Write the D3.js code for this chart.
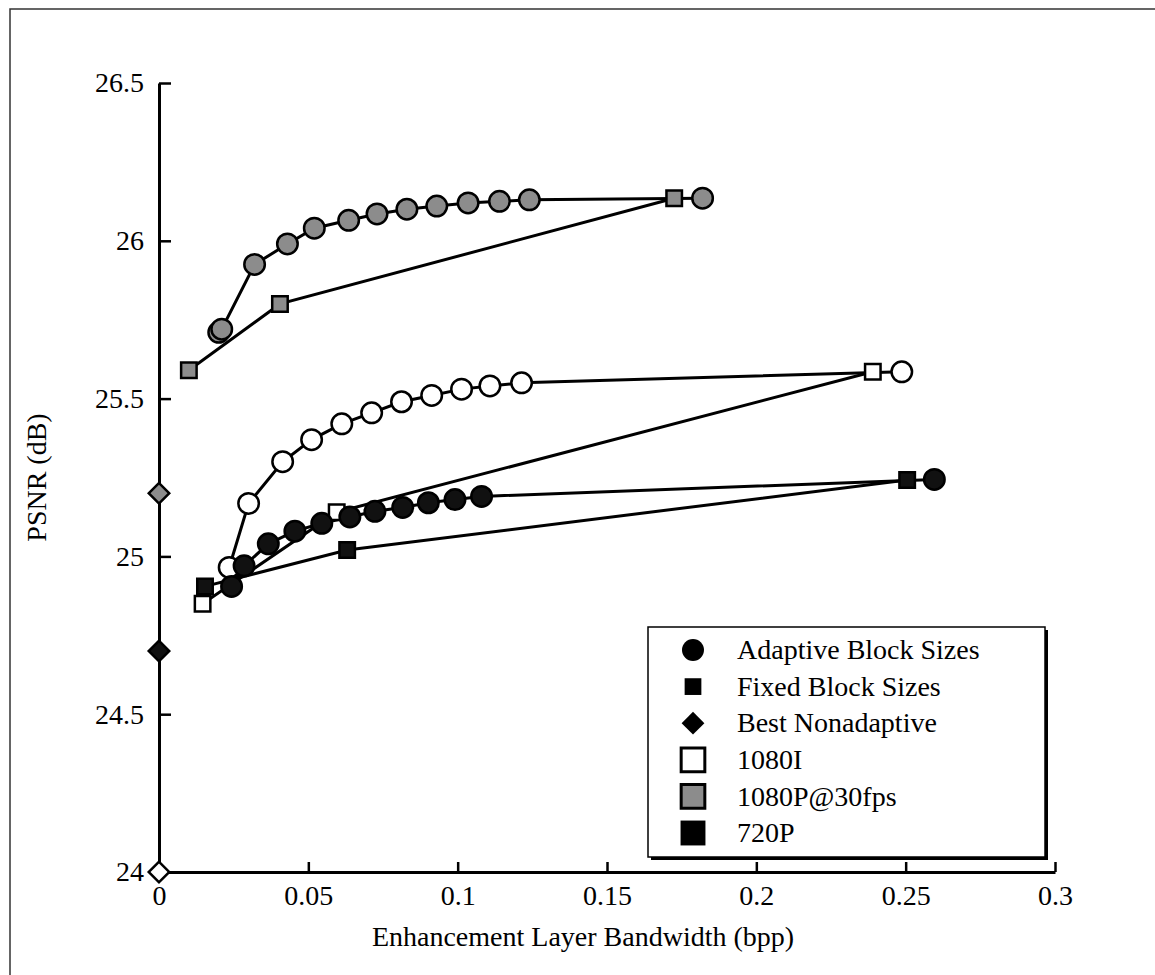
<!DOCTYPE html>
<html>
<head>
<meta charset="utf-8">
<script src="https://cdn.jsdelivr.net/npm/d3@7"></script>
<style>
  body { margin: 0; background: #fff; }
  svg { display: block; font-family: "Liberation Serif", "Times New Roman", serif; }
</style>
</head>
<body>
<div id="chart"></div>
<script>
// Values (bpp, dB)
const p1080Adaptive_x = [0.020, 0.021, 0.032, 0.043, 0.052, 0.0635, 0.073, 0.083, 0.093, 0.1035, 0.114, 0.124, 0.182];
const p1080Adaptive_y = [25.71, 25.72, 25.925, 25.99, 26.04, 26.065, 26.085, 26.10, 26.11, 26.12, 26.125, 26.13, 26.135];
const p1080Fixed_x    = [0.010, 0.0405, 0.1725];
const p1080Fixed_y    = [25.59, 25.80, 26.135];

const i1080Adaptive_x = [0.0235, 0.030, 0.0414, 0.0511, 0.0612, 0.0712, 0.0812, 0.0913, 0.1013, 0.1108, 0.1214, 0.2487];
const i1080Adaptive_y = [24.965, 25.168, 25.30, 25.37, 25.42, 25.455, 25.49, 25.51, 25.53, 25.54, 25.55, 25.585];
const i1080Fixed_x    = [0.0146, 0.0595, 0.239];
const i1080Fixed_y    = [24.85, 25.14, 25.585];

const p720Adaptive_x  = [0.0243, 0.0285, 0.0366, 0.0455, 0.0545, 0.0639, 0.0723, 0.0816, 0.0902, 0.0991, 0.108, 0.2596];
const p720Adaptive_y  = [24.905, 24.97, 25.04, 25.08, 25.105, 25.125, 25.143, 25.155, 25.17, 25.18, 25.19, 25.244];
const p720Fixed_x     = [0.0154, 0.063, 0.2505];
const p720Fixed_y     = [24.905, 25.02, 25.242];

// best nonadaptive: 1080I, 720P, 1080P
const nonadaptive_x = [0, 0, 0];
const nonadaptive_y = [24.0, 24.7, 25.2];
const nonadaptive_fmt = ['1080I', '720P', '1080P'];

const xTicks = [0, 0.05, 0.1, 0.15, 0.2, 0.25, 0.3];
const yTicks = [24, 24.5, 25, 25.5, 26, 26.5];
const legendLabels = ['Adaptive Block Sizes', 'Fixed Block Sizes', 'Best Nonadaptive', '1080I', '1080P@30fps', '720P'];

const FILL = { '1080I': '#fff', '1080P': '#8c8c8c', '720P': '#111' };

const W = 1155, H = 975;
const svg = d3.select('#chart').append('svg').attr('width', W).attr('height', H);

// outer frame (runs off the right/bottom edge in the scan)
svg.append('rect').attr('x', 10).attr('y', 9).attr('width', 1300).attr('height', 1100)
  .attr('fill', 'none').attr('stroke', '#333').attr('stroke-width', 1.5);

const x = d3.scaleLinear().domain([0, 0.3]).range([159, 1055]);
const y = d3.scaleLinear().domain([24, 26.5]).range([872, 83]);

const zip = (xs, ys) => xs.map((v, i) => [v, ys[i]]);
const series = [
  { fmt: '1080P', shape: 'circle', pts: zip(p1080Adaptive_x, p1080Adaptive_y) },
  { fmt: '1080P', shape: 'square', pts: zip(p1080Fixed_x, p1080Fixed_y) },
  { fmt: '1080I', shape: 'circle', pts: zip(i1080Adaptive_x, i1080Adaptive_y) },
  { fmt: '1080I', shape: 'square', pts: zip(i1080Fixed_x, i1080Fixed_y) },
  { fmt: '720P',  shape: 'circle', pts: zip(p720Adaptive_x, p720Adaptive_y) },
  { fmt: '720P',  shape: 'square', pts: zip(p720Fixed_x, p720Fixed_y) },
];

const SYM = {
  circle:  { type: d3.symbolCircle, size: 330, rot: 0 },
  square:  { type: d3.symbolSquare, size: 240, rot: 0 },
  diamond: { type: d3.symbolSquare, size: 210, rot: 45 },
};
const sym = s => d3.symbol().type(SYM[s].type).size(SYM[s].size)();

// Axes
const gx = svg.append('g').attr('transform', `translate(0,${y(24)})`)
  .call(d3.axisBottom(x).tickValues(xTicks).tickFormat(d3.format('')).tickSizeInner(-10).tickSizeOuter(0).tickPadding(13));
const gy = svg.append('g').attr('transform', `translate(${x(0)},0)`)
  .call(d3.axisLeft(y).tickValues(yTicks).tickFormat(d3.format('')).tickSizeInner(-12).tickSizeOuter(0).tickPadding(15));
[gx, gy].forEach(g => {
  g.select('.domain').attr('stroke', '#000').attr('stroke-width', 3);
  g.selectAll('.tick line').attr('stroke', '#000').attr('stroke-width', 2.5);
  g.selectAll('text').attr('fill', '#000').style('font-size', '28px').style('font-family', 'Liberation Serif');
});
gx.select('.tick line').remove();

svg.append('text').attr('x', (x(0) + x(0.3)) / 2 - 24).attr('y', 946).attr('text-anchor', 'middle')
  .style('font-size', '28px').text('Enhancement Layer Bandwidth (bpp)');
svg.append('text').attr('transform', `translate(46,${(y(24) + y(26.5)) / 2}) rotate(-90)`).attr('text-anchor', 'middle')
  .style('font-size', '28px').text('PSNR (dB)');

// Lines
const line = d3.line().x(d => x(d[0])).y(d => y(d[1]));
svg.append('g').selectAll('path').data(series).join('path')
  .attr('d', d => line(d.pts)).attr('fill', 'none').attr('stroke', '#000').attr('stroke-width', 3);

// Markers
series.forEach(s => {
  svg.append('g').selectAll('path').data(s.pts).join('path')
    .attr('d', sym(s.shape))
    .attr('transform', d => `translate(${x(d[0])},${y(d[1])}) rotate(${SYM[s.shape].rot})`)
    .attr('fill', FILL[s.fmt]).attr('stroke', '#000').attr('stroke-width', 2.5);
});
svg.append('g').selectAll('path').data(nonadaptive_x.map((v, i) => [v, nonadaptive_y[i], nonadaptive_fmt[i]])).join('path')
  .attr('d', sym('diamond'))
  .attr('transform', d => `translate(${x(d[0])},${y(d[1])}) rotate(45)`)
  .attr('fill', d => FILL[d[2]]).attr('stroke', '#000').attr('stroke-width', 2.5);

// Legend
const lg = svg.append('g').attr('transform', 'translate(648,627)');
lg.append('rect').attr('x', 3).attr('y', 3).attr('width', 397).attr('height', 230).attr('fill', '#000');
lg.append('rect').attr('width', 397).attr('height', 230).attr('fill', '#fff').attr('stroke', '#000').attr('stroke-width', 1.5);
const legendSym = [
  { d: d3.symbol().type(d3.symbolCircle).size(380)(), fill: '#000', rot: 0, sw: 0 },
  { d: d3.symbol().type(d3.symbolSquare).size(280)(), fill: '#000', rot: 0, sw: 0 },
  { d: d3.symbol().type(d3.symbolSquare).size(260)(), fill: '#000', rot: 45, sw: 0 },
  { d: d3.symbol().type(d3.symbolSquare).size(560)(), fill: FILL['1080I'], rot: 0, sw: 3 },
  { d: d3.symbol().type(d3.symbolSquare).size(560)(), fill: FILL['1080P'], rot: 0, sw: 3 },
  { d: d3.symbol().type(d3.symbolSquare).size(620)(), fill: '#000', rot: 0, sw: 0 },
];
const rows = lg.selectAll('.row').data(legendLabels).join('g')
  .attr('transform', (d, i) => `translate(0,${23 + i * 36.6})`);
rows.append('path').attr('d', (d, i) => legendSym[i].d)
  .attr('transform', (d, i) => `translate(45,0) rotate(${legendSym[i].rot})`)
  .attr('fill', (d, i) => legendSym[i].fill).attr('stroke', '#000').attr('stroke-width', (d, i) => legendSym[i].sw);
rows.append('text').attr('x', 89).attr('dy', '0.33em').style('font-size', '28px').text(d => d);
</script>
</body>
</html>
